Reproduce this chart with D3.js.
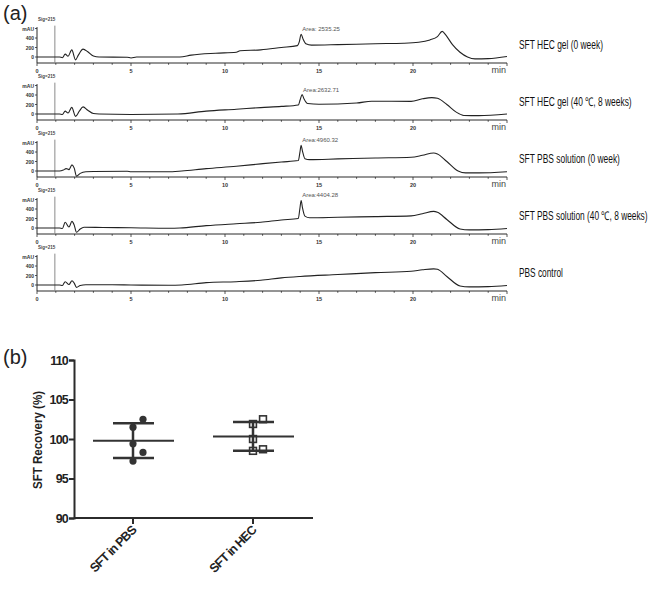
<!DOCTYPE html>
<html>
<head>
<meta charset="utf-8">
<script src="https://cdn.jsdelivr.net/npm/d3@7"></script>
<style>
  body { margin: 0; background: #fff; }
  svg { display: block; }
  text { font-family: "Liberation Sans", Arial, sans-serif; }
</style>
</head>
<body>
<svg id="chart" width="652" height="592"></svg>
<script>
// ---------------- DATA ----------------
// Panel (a): HPLC chromatograms, [time (min), signal (mAU)]
const sampleNames = [
  "SFT HEC gel (0 week)",
  "SFT HEC gel (40 \u2103, 8 weeks)",
  "SFT PBS solution (0 week)",
  "SFT PBS solution (40 \u2103, 8 weeks)",
  "PBS control"
];
const areaLabels = ["Area: 2535.25", "Area:2632.71", "Area:4960.32", "Area:4404.28", null];
const areaPeakTimes = [14.05, 14.1, 14.05, 14.05, null];
const timeTicks = [0, 5, 10, 15, 20];
const signalTicks = [0, 200, 400, 600];
const signalTickLabels = ["0", "200", "400", "mAU"];

const traceHecGel0 = [[0,0],[1.2,0],[1.35,-15],[1.5,60],[1.65,15],[1.85,150],[2.05,-60],[2.2,40],[2.45,165],[2.7,110],[3.0,20],[3.3,0],[4.8,-5],[5.0,-20],[5.3,0],[7.6,0],[8.2,40],[9.5,80],[10.6,100],[10.8,130],[11.9,150],[13.0,200],[13.85,240],[13.95,320],[14.05,480],[14.15,380],[14.3,280],[14.6,250],[16,260],[18,280],[19.5,290],[20.3,310],[20.9,360],[21.3,430],[21.55,540],[21.75,460],[22.1,260],[22.5,100],[22.9,0],[23.3,-40],[24,-35],[25,10]];
const traceHecGel8w = [[0,0],[1.2,0],[1.35,-10],[1.5,60],[1.65,20],[1.85,140],[2.05,-50],[2.25,60],[2.45,150],[2.7,80],[3.0,10],[3.3,0],[5,-10],[7.5,0],[9,60],[10.6,100],[11.9,135],[13,160],[13.9,190],[14.0,300],[14.1,410],[14.2,320],[14.4,220],[15,205],[17,230],[17.8,270],[19.9,265],[20.5,320],[21.0,345],[21.3,330],[21.8,200],[22.3,40],[22.7,-30],[23.5,-35],[25,0]];
const tracePbs0 = [[0,0],[1.2,0],[1.4,20],[1.55,50],[1.7,30],[1.86,130],[1.98,60],[2.1,-110],[2.3,-50],[2.6,-15],[3.0,-10],[4.8,-5],[5.0,-15],[7.2,-15],[7.7,0],[9,50],[10.6,100],[11.9,150],[13,190],[13.9,220],[13.98,380],[14.05,540],[14.12,420],[14.25,260],[14.5,240],[16,255],[18,275],[19.9,290],[20.5,330],[21.1,380],[21.3,360],[21.8,200],[22.4,0],[22.8,-40],[23.5,-40],[25,-15]];
const tracePbs8w = [[0,0],[1.2,0],[1.35,-10],[1.5,120],[1.7,20],[1.86,140],[1.98,60],[2.1,-90],[2.3,-20],[2.5,15],[3.5,10],[5,5],[7,-5],[7.6,0],[9,50],[10.6,90],[11.9,120],[13,170],[13.9,200],[13.98,400],[14.05,580],[14.12,430],[14.25,250],[14.5,215],[16,225],[18,240],[19.9,255],[20.5,300],[21.1,350],[21.3,330],[21.8,180],[22.5,-20],[23,-40],[24,-35],[25,-10]];
const tracePbsControl = [[0,0],[1.2,0],[1.35,-10],[1.5,70],[1.7,10],[1.86,90],[1.98,40],[2.1,-50],[2.3,-10],[2.6,5],[4,5],[5,0],[7,-5],[7.7,0],[9,50],[10.6,70],[11.9,100],[13,150],[14,180],[16,220],[18,260],[19.9,290],[20.5,320],[21.1,340],[21.3,330],[21.8,180],[22.5,-20],[23,-40],[24,-35],[25,-10]];
const traces = [traceHecGel0, traceHecGel8w, tracePbs0, tracePbs8w, tracePbsControl];
const injectionTime = 0.95;

// Panel (b): recovery (%)
const groups = ["SFT in PBS", "SFT in HEC"];
const recoveryPbs = [101.5, 102.5, 99.4, 98.3, 97.2];
const recoveryHec = [101.9, 102.5, 100.0, 98.5, 98.7];
const recoveryTicks = [90, 95, 100, 105, 110];

// ---------------- DRAW ----------------
const svg = d3.select("#chart");
const ink = "#2b2b2b";

// panel letters
svg.append("text").attr("x", 3).attr("y", 20).attr("font-size", 20).attr("fill", "#222").text("(a)");
svg.append("text").attr("x", 3).attr("y", 364).attr("font-size", 20).attr("fill", "#222").text("(b)");

// ---- Panel (a)
const x = d3.scaleLinear().domain([0, 25]).range([37, 507]);
const labelWidths = [84, 113, 101, 129, 44];

traces.forEach((tr, i) => {
  const zero = 57 + i * 57;
  const y = d3.scaleLinear().domain([0, 400]).range([zero, zero - 19]);
  const axisY = zero + 6;
  const g = svg.append("g");

  // x axis
  g.append("line").attr("x1", x(0)).attr("x2", x(25)).attr("y1", axisY).attr("y2", axisY)
    .attr("stroke", ink).attr("stroke-width", 1);
  g.selectAll(".minor").data(d3.range(0, 26)).join("line")
    .attr("x1", d => x(d)).attr("x2", d => x(d))
    .attr("y1", axisY).attr("y2", d => axisY + (d % 5 === 0 ? 3 : 1.8))
    .attr("stroke", ink).attr("stroke-width", 0.8);
  g.selectAll(".tl").data(timeTicks).join("text")
    .attr("x", d => x(d)).attr("y", axisY + 9.5)
    .attr("text-anchor", "middle").attr("font-size", 5.5).attr("font-weight", "bold").attr("fill", "#333")
    .text(d => d);
  g.append("text").attr("x", x(25) - 1).attr("y", axisY + 10).attr("text-anchor", "end")
    .attr("font-size", 9).attr("fill", "#444").text("min");

  // y axis
  g.append("line").attr("x1", x(0)).attr("x2", x(0)).attr("y1", y(630)).attr("y2", axisY)
    .attr("stroke", ink).attr("stroke-width", 1);
  g.selectAll(".yt").data(signalTicks).join("line")
    .attr("x1", x(0) - 2).attr("x2", x(0)).attr("y1", d => y(d)).attr("y2", d => y(d))
    .attr("stroke", ink).attr("stroke-width", 0.8);
  g.selectAll(".ytl").data(signalTicks).join("text")
    .attr("x", x(0) - 3).attr("y", d => y(d) + 2)
    .attr("text-anchor", "end").attr("font-size", 5).attr("font-weight", "bold").attr("fill", "#333")
    .text((d, k) => signalTickLabels[k]);
  g.append("text").attr("x", x(0) + 1).attr("y", zero - 36).attr("font-size", 4.5).attr("font-weight", "bold")
    .attr("fill", "#444").text("Sig=215");

  // injection marker
  g.append("line").attr("x1", x(injectionTime)).attr("x2", x(injectionTime))
    .attr("y1", y(660)).attr("y2", axisY).attr("stroke", "#8a8a8a").attr("stroke-width", 1);

  // trace
  const line = d3.line().x(d => x(d[0])).y(d => y(d[1])).curve(d3.curveMonotoneX);
  g.append("path").datum(tr).attr("d", line).attr("fill", "none")
    .attr("stroke", "#222").attr("stroke-width", 1.1);

  // area label
  if (areaLabels[i]) {
    const pk = tr.reduce((a, b) => (Math.abs(b[0] - areaPeakTimes[i]) < Math.abs(a[0] - areaPeakTimes[i]) ? b : a));
    g.append("text").attr("x", x(areaPeakTimes[i]) + 1).attr("y", y(pk[1]) - 3)
      .attr("font-size", 6).attr("fill", "#555").text(areaLabels[i]);
  }

  // sample name (condensed lettering, as in the source figure)
  const t = g.append("text").attr("x", 0).attr("y", 0)
    .attr("font-size", 12).attr("fill", "#111")
    .text(sampleNames[i]);
  const natural = t.node().getComputedTextLength();
  t.attr("transform", `translate(519,${zero - 8}) scale(${labelWidths[i] / natural},1)`);
});

// ---- Panel (b)
const xb = d3.scalePoint().domain(groups).range([133, 253]);
const yb = d3.scaleLinear().domain([90, 110]).range([518, 360]);
const gb = svg.append("g");

const yAxis = d3.axisLeft(yb).tickValues(recoveryTicks).tickSize(5).tickFormat(d3.format("d"));
const ya = gb.append("g").attr("transform", "translate(74,0)").call(yAxis);
ya.select(".domain").attr("stroke", ink).attr("stroke-width", 2);
ya.selectAll(".tick line").attr("stroke", ink).attr("stroke-width", 2);
ya.selectAll(".tick text").attr("font-size", 12.5).attr("font-weight", "bold").attr("fill", "#222")
  .attr("font-family", "Liberation Sans, Arial, sans-serif").attr("letter-spacing", -0.8).attr("x", -6);

gb.append("line").attr("x1", 74).attr("x2", 313).attr("y1", 518).attr("y2", 518)
  .attr("stroke", ink).attr("stroke-width", 2);
gb.selectAll(".xt").data(groups).join("line")
  .attr("x1", d => xb(d)).attr("x2", d => xb(d)).attr("y1", 518).attr("y2", 524)
  .attr("stroke", ink).attr("stroke-width", 2);
gb.selectAll(".xl").data(groups).join("text")
  .attr("transform", d => `translate(${xb(d) + 4},${531}) rotate(-45)`)
  .attr("text-anchor", "end").attr("font-size", 12.5).attr("font-weight", "bold").attr("fill", "#222")
  .attr("letter-spacing", -0.8)
  .text(d => d);

gb.append("text").attr("transform", "translate(42,440) rotate(-90)")
  .attr("text-anchor", "middle").attr("font-size", 13).attr("font-weight", "bold").attr("fill", "#222")
  .attr("textLength", 98).attr("lengthAdjust", "spacingAndGlyphs")
  .text("SFT Recovery (%)");

const sets = [recoveryPbs, recoveryHec];
sets.forEach((vals, gi) => {
  const cx = xb(groups[gi]);
  const mean = d3.mean(vals), sd = d3.deviation(vals);
  // place points: shift those that would collide with an already-centred point
  const sorted = vals.slice().sort((a, b) => a - b);
  const centred = [];
  const pts = sorted.map(v => {
    const clash = centred.some(c => Math.abs(yb(c) - yb(v)) < 10);
    if (!clash) { centred.push(v); return { v, dx: 0 }; }
    return { v, dx: 10 };
  });
  if (gi === 0) {
    gb.selectAll(".pc").data(pts).join("circle")
      .attr("cx", d => cx + d.dx).attr("cy", d => yb(d.v)).attr("r", 3.6).attr("fill", "#333");
  } else {
    gb.selectAll(".ps").data(pts).join("rect")
      .attr("x", d => cx + d.dx - 3.4).attr("y", d => yb(d.v) - 3.4)
      .attr("width", 6.8).attr("height", 6.8).attr("fill", "#fff")
      .attr("stroke", "#333").attr("stroke-width", 1.6);
  }
  // error bar
  gb.append("line").attr("x1", cx).attr("x2", cx).attr("y1", yb(mean + sd)).attr("y2", yb(mean - sd))
    .attr("stroke", "#333").attr("stroke-width", 2.5);
  [mean + sd, mean - sd].forEach(v => {
    gb.append("line").attr("x1", cx - 20).attr("x2", cx + 21).attr("y1", yb(v)).attr("y2", yb(v))
      .attr("stroke", "#333").attr("stroke-width", 2.5);
  });
  gb.append("line").attr("x1", cx - 40).attr("x2", cx + 41).attr("y1", yb(mean)).attr("y2", yb(mean))
    .attr("stroke", "#333").attr("stroke-width", 2);
});
</script>
</body>
</html>
